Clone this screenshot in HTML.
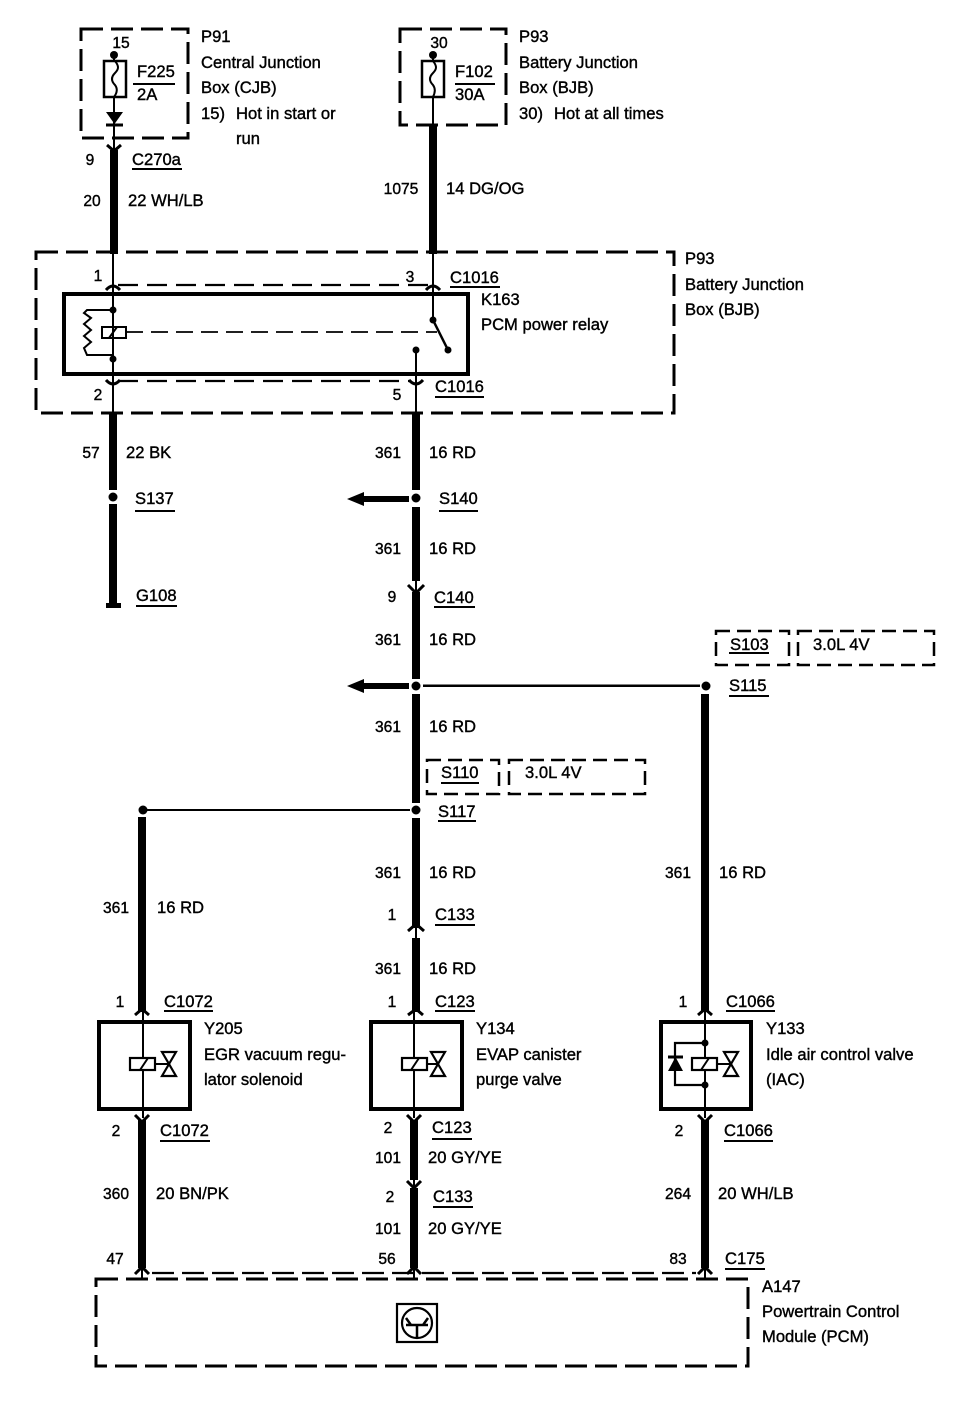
<!DOCTYPE html>
<html><head><meta charset="utf-8"><style>
html,body{margin:0;padding:0;background:#fff}
svg{display:block}
text{font-family:"Liberation Sans",sans-serif;font-size:16.6px;fill:#000;stroke:#000;stroke-width:.4px}
.m{text-anchor:middle;font-size:15.6px}
.d{fill:none;stroke:#000;stroke-width:3;stroke-dasharray:22 8}
.s{fill:none;stroke:#000;stroke-width:2.5;stroke-dasharray:14 7}
.d2{fill:none;stroke:#000;stroke-width:2.2;stroke-dasharray:20 9}
.w{stroke:#000;stroke-width:8;fill:none}
.t{stroke:#000;stroke-width:2;fill:none}
.u{stroke:#000;stroke-width:2}
.c{stroke:#000;stroke-width:3;fill:none}
</style></head><body>
<svg width="960" height="1408" viewBox="0 0 960 1408" xmlns="http://www.w3.org/2000/svg">
<rect width="960" height="1408" fill="#fff"/>

<!-- dashed boxes -->
<rect class="d" x="81" y="29" width="107" height="109"/>
<rect class="d" x="400" y="29" width="106" height="96"/>
<rect class="d" x="36" y="252" width="638" height="161"/>
<rect class="d" x="96" y="1279" width="652" height="87"/>
<rect class="s" x="716" y="631" width="73" height="34"/>
<rect class="s" x="798" y="631" width="136" height="34"/>
<rect class="s" x="427" y="760" width="72" height="34"/>
<rect class="s" x="509" y="760" width="136" height="34"/>

<!-- fuses -->
<circle cx="114" cy="55" r="4"/>
<path class="t" d="M114 55V150"/>
<rect x="104" y="61" width="22" height="36" fill="#fff" stroke="#000" stroke-width="2.500"/>
<path class="t" d="M115 61c4 5 4 8 0 12c-4 4-4 8 0 12c3 4 2 8-1 12"/>
<path d="M106 112h17l-8.500 12z"/><path class="c" d="M106 125h17"/>
<circle cx="433" cy="55" r="4"/>
<path class="t" d="M433 55V125"/>
<rect x="422" y="61" width="22" height="36" fill="#fff" stroke="#000" stroke-width="2.500"/>
<path class="t" d="M433 61c4 5 4 8 0 12c-4 4-4 8 0 12c3 4 2 8 0 12"/>

<!-- upper wires -->
<path class="w" d="M114 150V254M433 125V254"/>
<path class="c" d="M107 145l7 6 7-6"/>

<!-- relay -->
<path class="d2" d="M118 285H428"/>
<path class="d2" d="M118 381H411"/>
<path class="t" d="M113 252V413"/>
<path class="t" d="M433 252V320"/>
<path class="c" d="M106 290q7-8 14 0M426 290q7-8 14 0M106 380q7 8 14 0M409 380q7 8 14 0"/>
<rect x="64" y="294" width="404" height="80" fill="none" stroke="#000" stroke-width="4"/>
<path class="t" d="M113 310H87l-3 3 7 5-7 6 7 6-7 6 7 6-7 6 3 7H113"/>
<circle cx="113" cy="310" r="3.500"/><circle cx="113" cy="359" r="3.500"/>
<rect x="102" y="327" width="24" height="11" fill="#fff" stroke="#000" stroke-width="2"/>
<path class="t" d="M113 327V338M109 338l8-11"/>
<path d="M126 332H437" fill="none" stroke="#000" stroke-width="1.800" stroke-dasharray="17 8"/>
<circle cx="433" cy="320" r="3.500"/><circle cx="448" cy="350" r="3.500"/>
<path d="M433 320L448 350" stroke="#000" stroke-width="2.500"/>
<circle cx="416" cy="350" r="3.500"/>
<path class="t" d="M416 350V413"/>

<!-- left lower -->
<path class="w" d="M113 413V490M113 504V604"/>
<circle cx="113" cy="497" r="4.500"/>
<path d="M106 603h15v5h-15z"/>

<!-- center wire -->
<path class="w" d="M416 413V490M416 507V581M416 592V679M416 694V803M416 818V928M416 938V1012"/>
<path class="t" d="M416 580V594M416 926V940"/>
<circle cx="416" cy="498" r="4.500"/><circle cx="416" cy="686" r="4.500"/><circle cx="416" cy="810" r="4.500"/>
<path d="M409 496H364V492L347 499L364 506V502H409z"/>
<path d="M409 683H364V679L347 686L364 693V689H409z"/>
<path d="M423 684.500H700V687H423z"/>
<circle cx="706" cy="686" r="4.500"/>
<path class="c" d="M408 585l8 8 8-8M408 931l8-7 8 7"/>
<path d="M143 809H410V811H143z"/>
<circle cx="143" cy="810" r="4.500"/>
<path class="w" d="M142 817V1012M705 694V1012"/>

<!-- components -->
<path class="w" d="M142 1120V1268M414 1120V1180M414 1188V1268M705 1120V1268"/>
<path class="t" d="M414 1178V1190"/>
<path class="c" d="M135 1015l7-6 7 6M408 1015l8-6 7 6M698 1015l7-6 7 6"/>
<path class="c" d="M135 1115l7 7 7-7M407 1115l7 7 7-7M698 1115l7 7 7-7"/>
<path class="c" d="M407 1181l7 7 7-7"/>
<rect x="99" y="1022" width="91" height="87" fill="none" stroke="#000" stroke-width="4"/>
<rect x="371" y="1022" width="91" height="87" fill="none" stroke="#000" stroke-width="4"/>
<rect x="661" y="1022" width="90" height="87" fill="none" stroke="#000" stroke-width="4"/>
<path class="t" d="M143 1012V1118M414 1012V1118M705 1012V1118"/>

<rect x="130" y="1058" width="25" height="12" fill="#fff" stroke="#000" stroke-width="2.200"/>
<path class="t" d="M140 1070l8-12M155 1064H170"/>
<path d="M162 1052h14l-7 12 7 12h-14l7-12z" fill="#fff" stroke="#000" stroke-width="2.200"/>

<rect x="402" y="1058" width="25" height="12" fill="#fff" stroke="#000" stroke-width="2.200"/>
<path class="t" d="M411 1070l8-12M427 1064H438"/>
<path d="M431 1052h14l-7 12 7 12h-14l7-12z" fill="#fff" stroke="#000" stroke-width="2.200"/>

<rect x="692" y="1058" width="25" height="12" fill="#fff" stroke="#000" stroke-width="2.200"/>
<path class="t" d="M701 1070l8-12M717 1064H730"/>
<path d="M724 1052h14l-7 12 7 12h-14l7-12z" fill="#fff" stroke="#000" stroke-width="2.200"/>
<path d="M705 1043H675V1085H705" fill="none" stroke="#000" stroke-width="2.200"/>
<circle cx="705" cy="1043" r="3.500"/><circle cx="705" cy="1085" r="3.500"/>
<path d="M668 1071h15l-7.500-14z"/><path class="c" d="M668 1057h15"/>

<!-- PCM connector -->
<path class="d2" d="M152 1273H696" style="stroke-dasharray:22 8"/>
<path class="c" d="M135 1274l7-7 7 7M407 1274l7-7 7 7M698 1274l7-7 7 7"/>
<path class="t" d="M142 1268V1280M414 1268V1280M705 1268V1280"/>
<rect x="397" y="1304" width="40" height="38" fill="none" stroke="#000" stroke-width="2.200"/>
<circle cx="417" cy="1323" r="15" fill="none" stroke="#000" stroke-width="2.200"/>
<path d="M406 1318L411 1325H423L428 1318M406 1325H428M417 1325V1337" fill="none" stroke="#000" stroke-width="2.500"/>

<!-- underlines -->
<path class="u" d="M133 84H175M455 84H495M132 169H182M450 287H500M435 397H484M135 511H175M439 511H478M136 606H177M434 607H475M729 653H769M729 696H769M441 783H479M438 821H476M435 925H475M435 1011H475M164 1011H213M726 1011H775M160 1141H210M432 1139H472M724 1141H773M433 1207H473M725 1269H765"/>

<!-- text -->
<text x="121" y="48" class="m">15</text>
<text x="439" y="48" class="m">30</text>
<text x="137" y="77">F225</text><text x="137" y="100">2A</text>
<text x="455" y="77">F102</text><text x="455" y="100">30A</text>
<text x="201" y="42">P91</text>
<text x="201" y="68">Central Junction</text>
<text x="201" y="93">Box (CJB)</text>
<text x="201" y="119">15)</text><text x="236" y="119">Hot in start or</text>
<text x="236" y="144">run</text>
<text x="519" y="42">P93</text>
<text x="519" y="68">Battery Junction</text>
<text x="519" y="93">Box (BJB)</text>
<text x="519" y="119">30)</text><text x="554" y="119">Hot at all times</text>

<text x="90" y="165" class="m">9</text><text x="132" y="165">C270a</text>
<text x="92" y="206" class="m">20</text><text x="128" y="206">22 WH/LB</text>
<text x="401" y="194" class="m">1075</text><text x="446" y="194">14 DG/OG</text>

<text x="685" y="264">P93</text>
<text x="685" y="290">Battery Junction</text>
<text x="685" y="315">Box (BJB)</text>
<text x="98" y="281" class="m">1</text>
<text x="410" y="282" class="m">3</text>
<text x="450" y="283">C1016</text>
<text x="481" y="305">K163</text>
<text x="481" y="330">PCM power relay</text>
<text x="98" y="400" class="m">2</text>
<text x="397" y="400" class="m">5</text>
<text x="435" y="392">C1016</text>

<text x="91" y="458" class="m">57</text><text x="126" y="458">22 BK</text>
<text x="388" y="458" class="m">361</text><text x="429" y="458">16 RD</text>
<text x="135" y="504">S137</text>
<text x="439" y="504">S140</text>
<text x="388" y="554" class="m">361</text><text x="429" y="554">16 RD</text>
<text x="136" y="601">G108</text>
<text x="392" y="602" class="m">9</text><text x="434" y="603">C140</text>
<text x="388" y="645" class="m">361</text><text x="429" y="645">16 RD</text>
<text x="730" y="650">S103</text><text x="813" y="650">3.0L 4V</text>
<text x="729" y="691">S115</text>
<text x="388" y="732" class="m">361</text><text x="429" y="732">16 RD</text>
<text x="441" y="778">S110</text><text x="525" y="778">3.0L 4V</text>
<text x="438" y="817">S117</text>
<text x="388" y="878" class="m">361</text><text x="429" y="878">16 RD</text>
<text x="678" y="878" class="m">361</text><text x="719" y="878">16 RD</text>
<text x="116" y="913" class="m">361</text><text x="157" y="913">16 RD</text>
<text x="392" y="920" class="m">1</text><text x="435" y="920">C133</text>
<text x="388" y="974" class="m">361</text><text x="429" y="974">16 RD</text>

<text x="120" y="1007" class="m">1</text><text x="164" y="1007">C1072</text>
<text x="392" y="1007" class="m">1</text><text x="435" y="1007">C123</text>
<text x="683" y="1007" class="m">1</text><text x="726" y="1007">C1066</text>

<text x="204" y="1034">Y205</text>
<text x="204" y="1060">EGR vacuum regu-</text>
<text x="204" y="1085">lator solenoid</text>
<text x="476" y="1034">Y134</text>
<text x="476" y="1060">EVAP canister</text>
<text x="476" y="1085">purge valve</text>
<text x="766" y="1034">Y133</text>
<text x="766" y="1060">Idle air control valve</text>
<text x="766" y="1085">(IAC)</text>

<text x="116" y="1136" class="m">2</text><text x="160" y="1136">C1072</text>
<text x="388" y="1133" class="m">2</text><text x="432" y="1133">C123</text>
<text x="679" y="1136" class="m">2</text><text x="724" y="1136">C1066</text>
<text x="388" y="1163" class="m">101</text><text x="428" y="1163">20 GY/YE</text>
<text x="390" y="1202" class="m">2</text><text x="433" y="1202">C133</text>
<text x="388" y="1234" class="m">101</text><text x="428" y="1234">20 GY/YE</text>
<text x="116" y="1199" class="m">360</text><text x="156" y="1199">20 BN/PK</text>
<text x="678" y="1199" class="m">264</text><text x="718" y="1199">20 WH/LB</text>
<text x="115" y="1264" class="m">47</text>
<text x="387" y="1264" class="m">56</text>
<text x="678" y="1264" class="m">83</text><text x="725" y="1264">C175</text>
<text x="762" y="1292">A147</text>
<text x="762" y="1317">Powertrain Control</text>
<text x="762" y="1342">Module (PCM)</text>
</svg>
</body></html>
